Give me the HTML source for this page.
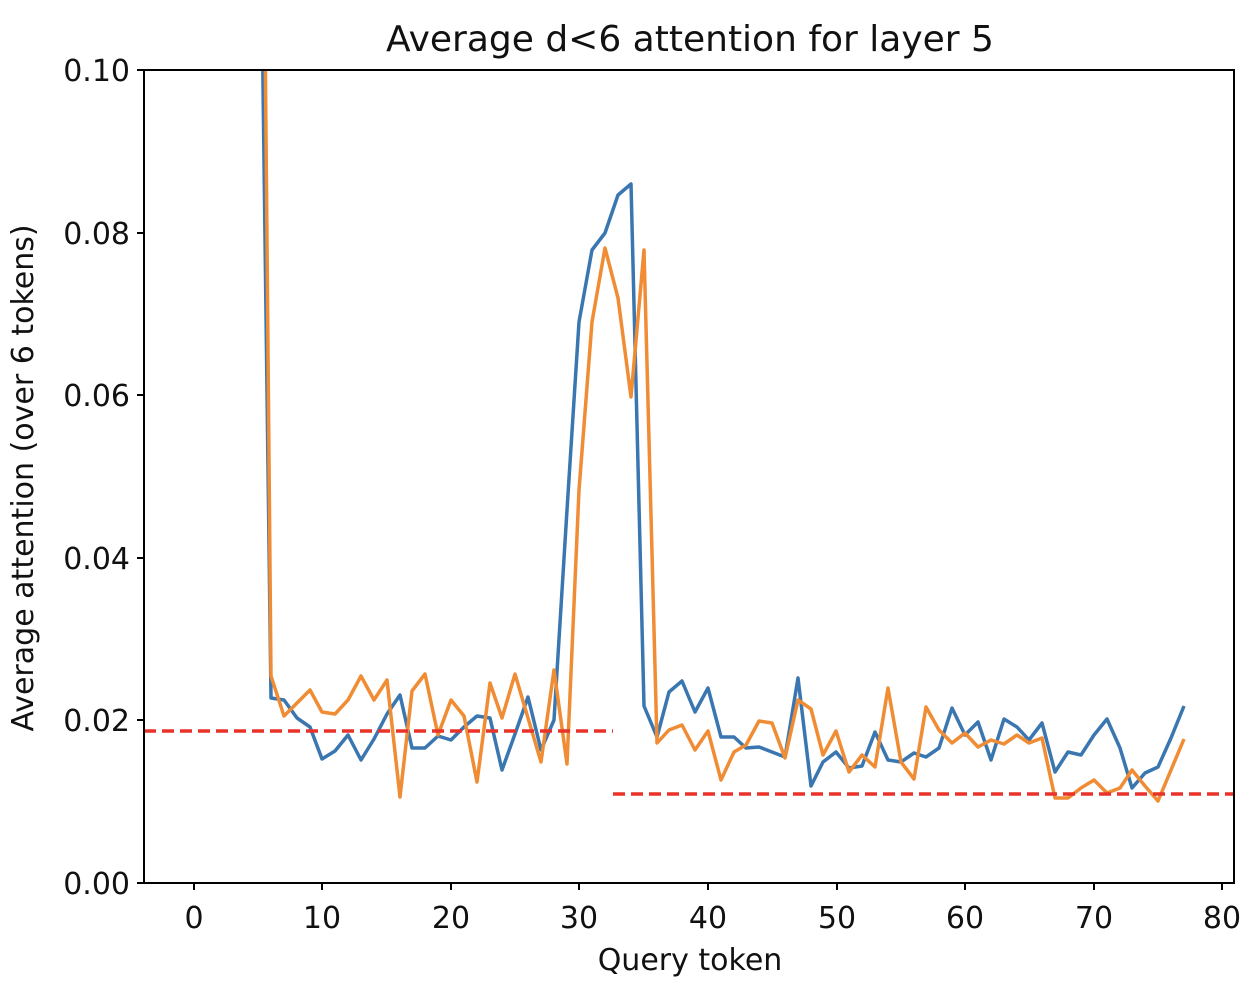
<!DOCTYPE html>
<html><head><meta charset="utf-8"><style>body{margin:0;background:#fff}svg{display:block;font-family:"DejaVu Sans","Liberation Sans",sans-serif}</style></head><body>
<svg width="1252" height="984" viewBox="0 0 1252 984" xmlns="http://www.w3.org/2000/svg">
<defs><clipPath id="c"><rect x="144" y="70" width="1090" height="813"/></clipPath></defs>
<g clip-path="url(#c)" fill="none" stroke-width="3.5" stroke-linejoin="round">
<polyline stroke="#3a76b0" points="258,-300 271,698 284,700 297,718 310,727 322,759 335,751 348,735 361,760 374,739 387,714 400,695 412,748 425,748 438,736 451,740 464,727 477,716 490,718 502,770 515,734 528,697 541,750 554,720 567,510 579,322 592,250 605,233 618,195 631,184 644,706 657,737 669,692 682,681 695,712 708,688 721,737 734,737 746,748 759,747 772,752 785,757 798,678 811,786 823,762 836,752 849,768 862,766 875,732 888,760 901,762 914,753 926,757 939,748 952,708 965,735 978,722 991,760 1004,719 1017,727 1029,740 1042,723 1055,772 1068,752 1081,755 1094,735 1107,719 1120,748 1132,788 1145,773 1158,767 1171,738 1184,706"/>
<polyline stroke="#f08c34" points="262,-300 271,676 284,716 297,703 310,690 322,712 335,714 348,700 361,676 374,700 387,680 400,797 412,691 425,674 438,735 451,700 464,716 477,782 490,683 502,718 515,674 528,718 541,762 554,670 567,764 579,490 592,322 605,248 618,298 631,397 644,250 657,743 669,730 682,725 695,750 708,731 721,780 734,752 746,745 759,721 772,723 785,758 798,700 811,709 823,755 836,731 849,772 862,755 875,767 888,688 901,762 914,779 926,707 939,730 952,743 965,733 978,747 991,740 1004,744 1017,735 1029,743 1042,738 1055,798 1068,798 1081,788 1094,780 1107,793 1120,788 1132,770 1145,786 1158,801 1171,770 1184,739"/>
<line x1="144" y1="731" x2="613" y2="731" stroke="#e8322a" stroke-dasharray="12,6"/>
<line x1="613" y1="794" x2="1234" y2="794" stroke="#e8322a" stroke-dasharray="12,6"/>
</g>
<rect x="144" y="70" width="1090" height="813" fill="none" stroke="#000" stroke-width="2"/>
<g stroke="#000" stroke-width="2">
<line x1="194" y1="883" x2="194" y2="890"/><line x1="322" y1="883" x2="322" y2="890"/><line x1="451" y1="883" x2="451" y2="890"/><line x1="579" y1="883" x2="579" y2="890"/><line x1="708" y1="883" x2="708" y2="890"/><line x1="837" y1="883" x2="837" y2="890"/><line x1="965" y1="883" x2="965" y2="890"/><line x1="1094" y1="883" x2="1094" y2="890"/><line x1="1222" y1="883" x2="1222" y2="890"/>
<line x1="137" y1="883" x2="144" y2="883"/><line x1="137" y1="720" x2="144" y2="720"/><line x1="137" y1="558" x2="144" y2="558"/><line x1="137" y1="395" x2="144" y2="395"/><line x1="137" y1="233" x2="144" y2="233"/><line x1="137" y1="70" x2="144" y2="70"/>
</g>
<g font-size="30" fill="#111" text-anchor="middle">
<text x="194" y="928">0</text><text x="322" y="928">10</text><text x="451" y="928">20</text><text x="579" y="928">30</text><text x="708" y="928">40</text><text x="837" y="928">50</text><text x="965" y="928">60</text><text x="1094" y="928">70</text><text x="1222" y="928">80</text>
<text x="690" y="970">Query token</text>
<text x="690" y="51" font-size="36">Average d&lt;6 attention for layer 5</text>
</g>
<g font-size="30" fill="#111" text-anchor="end">
<text x="130" y="894">0.00</text><text x="130" y="731">0.02</text><text x="130" y="569">0.04</text><text x="130" y="406">0.06</text><text x="130" y="244">0.08</text><text x="130" y="81">0.10</text>
</g>
<text transform="translate(33,478) rotate(-90)" font-size="30" fill="#111" text-anchor="middle">Average attention (over 6 tokens)</text>
</svg>
</body></html>
